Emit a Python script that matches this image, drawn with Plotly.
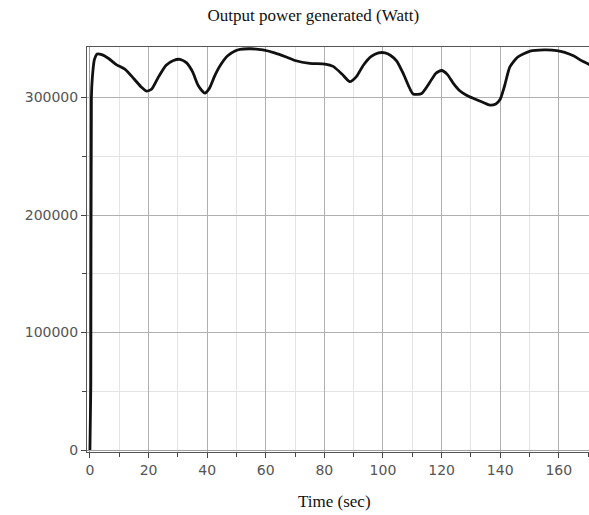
import plotly.graph_objects as go

time_sec = [0, 0.3, 0.5, 0.8, 1.5, 2.5, 4, 6.5, 9, 12, 15, 17.5, 19.3, 21, 23.5, 26, 28.5, 30.7, 33, 35, 37, 39.2, 40.8, 42.5, 44.4,
            47, 49.5, 51.2, 55, 59, 63, 67, 70, 75, 80.2, 83, 86, 88.7, 91, 93.3, 96, 98.5, 100.7, 102.5, 104.7, 107,
            110.3, 113.2, 116, 118, 120, 122, 124, 126.3, 128.5, 130.8, 134, 136.5, 138.5, 140, 141.5, 143.3, 146, 150.2,
            155, 159.3, 162, 165, 168, 170.5]
power_w = [0, 55000, 300000, 316000, 332000, 337000, 336500, 333000, 328000, 324000, 316000, 309000, 305500, 307000, 318000,
           327500, 331500, 332500, 329500, 322000, 310000, 303800, 308000, 318000, 327000,
           335500, 339500, 341000, 341500, 340500, 338000, 334500, 331500, 329000, 328500, 326500, 320000, 313500, 318000,
           327500, 335000, 338000, 338000, 336000, 331000, 320000,
           303000, 303500, 313000, 320500, 323000, 319500, 312000, 305500, 302000, 299300, 296000, 293500, 294500, 298500,
           310000, 326000, 334500, 339500, 340500, 340000, 338500, 335500, 331000, 328000]

x_ticks = [0, 20, 40, 60, 80, 100, 120, 140, 160]
y_ticks = [0, 100000, 200000, 300000]

fig = go.Figure()
fig.add_trace(go.Scatter(x=time_sec, y=power_w, mode="lines",
                         line=dict(color="#111111", width=2.8, shape="spline", smoothing=0.6),
                         showlegend=False))

tick_font = dict(family="DejaVu Sans", size=14, color="#555555")
fig.update_layout(
    width=589, height=515,
    margin=dict(l=87, r=0, t=47, b=63),
    paper_bgcolor="white", plot_bgcolor="white",
    title=dict(text="Output power generated (Watt)", x=0.532, xanchor="center", y=0.971, yanchor="middle",
               font=dict(family="Liberation Serif", size=17, color="#111111")),
    xaxis=dict(range=[-1.0, 170.3], tickvals=x_ticks, ticktext=[str(v) for v in x_ticks], automargin=False,
               showgrid=True, gridcolor="#b0b0b0", gridwidth=1,
               minor=dict(dtick=10, tick0=0, showgrid=True, gridcolor="#e4e4e4", ticks="outside", ticklen=4, tickcolor="#444"),
               ticks="outside", ticklen=5, tickcolor="#444", tickfont=tick_font,
               showline=True, linecolor="#555555", linewidth=1, mirror=True,
               zeroline=True, zerolinecolor="#a0a0a0", zerolinewidth=1),
    yaxis=dict(range=[-1700, 343000], tickvals=y_ticks, ticktext=[str(v) for v in y_ticks], automargin=False,
               showgrid=True, gridcolor="#b0b0b0", gridwidth=1,
               minor=dict(dtick=50000, tick0=0, showgrid=True, gridcolor="#e4e4e4", ticks="outside", ticklen=4, tickcolor="#444"),
               ticks="outside", ticklen=5, tickcolor="#444", tickfont=tick_font,
               showline=True, linecolor="#555555", linewidth=1, mirror=True,
               zeroline=True, zerolinecolor="#a0a0a0", zerolinewidth=1),
    annotations=[dict(text="Time (sec)", xref="paper", yref="paper", x=0.494, y=-0.123,
                      xanchor="center", yanchor="middle", showarrow=False,
                      font=dict(family="Liberation Serif", size=17, color="#111111"))],
)

fig.write_html("out.html", config={"displayModeBar": False},
               post_script="document.body.style.margin='0';document.body.style.overflow='hidden';")
